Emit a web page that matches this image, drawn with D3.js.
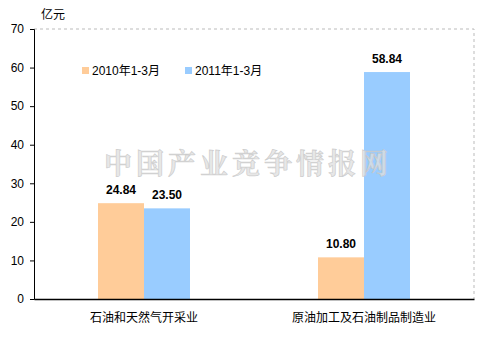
<!DOCTYPE html>
<html>
<head>
<meta charset="utf-8">
<script src="https://cdn.jsdelivr.net/npm/d3@7"></script>
<style>
  body { margin: 0; background: #fff; }
  text { font-family: "Liberation Sans", Arial, "Noto Sans CJK SC", sans-serif; }
  .cn { font-family: "Noto Sans CJK SC", sans-serif; }
</style>
</head>
<body>
<div id="chart"></div>
<script>
var categories = ["石油和天然气开采业", "原油加工及石油制品制造业"];
var seriesNames = ["2010年1-3月", "2011年1-3月"];
var values2010 = [24.84, 10.80];
var values2011 = [23.50, 58.84];
var colors = ["#FFCC99", "#99CCFF"];
var yTicks = [0, 10, 20, 30, 40, 50, 60, 70];

var W = 498, H = 337;
var margin = { top: 29, right: 24, bottom: 38, left: 34 };
var width = W - margin.left - margin.right,
    height = H - margin.top - margin.bottom;

var svg = d3.select("#chart").append("svg")
    .attr("width", W).attr("height", H);

var g = svg.append("g")
    .attr("transform", "translate(" + margin.left + "," + margin.top + ")");

var x0 = d3.scaleBand().domain(categories).range([0, width]);
var x1 = d3.scaleBand().domain(seriesNames).range([0, 92]);
var y = d3.scaleLinear().domain([0, 70]).range([height, 0]);

// dashed border top/right
g.append("path")
    .attr("d", "M0,0H" + width + "V" + height)
    .attr("fill", "none")
    .attr("stroke", "#bbb")
    .attr("stroke-dasharray", "3,3");

var rows = categories.map(function (c, i) {
    return { cat: c, vals: [values2010[i], values2011[i]] };
});

var grp = g.selectAll(".grp").data(rows).enter().append("g")
    .attr("transform", function (d) {
        return "translate(" + (x0(d.cat) + x0.bandwidth() / 2 - 46) + ",0)";
    });

grp.selectAll("rect").data(function (d) {
    return d.vals.map(function (v, i) { return { s: seriesNames[i], v: v, i: i }; });
}).enter().append("rect")
    .attr("x", function (d) { return x1(d.s); })
    .attr("y", function (d) { return y(d.v); })
    .attr("width", x1.bandwidth())
    .attr("height", function (d) { return height - y(d.v); })
    .attr("fill", function (d) { return colors[d.i]; });

grp.selectAll(".lbl").data(function (d) {
    return d.vals.map(function (v, i) { return { s: seriesNames[i], v: v }; });
}).enter().append("text")
    .attr("x", function (d) { return x1(d.s) + x1.bandwidth() / 2; })
    .attr("y", function (d) { return y(d.v) - 9; })
    .attr("text-anchor", "middle")
    .style("font-size", "12px")
    .style("font-weight", "bold")
    .text(function (d) { return d.v.toFixed(2); });

// watermark (drawn over the bars, like the reference)
g.append("text")
    .attr("x", 214).attr("y", 145)
    .attr("text-anchor", "middle")
    .style("font-family", "'Noto Serif CJK SC','Noto Sans CJK SC',serif")
    .style("font-size", "28px")
    .style("font-weight", "bold")
    .style("letter-spacing", "4px")
    .attr("fill", "#e0e0e0")
    .attr("fill-opacity", 0.75)
    .attr("stroke", "#c4c4c4")
    .attr("stroke-opacity", 0.8)
    .attr("stroke-width", 0.7)
    .text("中国产业竞争情报网");

// y axis
var yAxis = g.append("g")
    .call(d3.axisLeft(y).tickValues(yTicks).tickSize(4).tickPadding(6));
yAxis.select(".domain").attr("stroke", "#000");
yAxis.selectAll("text").style("font-size", "12px").attr("fill", "#000");

// x axis
var xAxis = g.append("g")
    .attr("transform", "translate(0," + height + ")")
    .call(d3.axisBottom(x0).tickSize(0).tickPadding(14));
xAxis.select(".domain").attr("stroke", "#000").attr("stroke-width", 1.5);
xAxis.selectAll("text").attr("class", "cn").style("font-size", "12px").attr("fill", "#000");

// unit
svg.append("text").attr("class", "cn")
    .attr("x", 41).attr("y", 19)
    .style("font-size", "12px")
    .text("亿元");

// legend
var legX = [82, 185];
var leg = svg.selectAll(".leg").data(seriesNames).enter().append("g")
    .attr("transform", function (d, i) { return "translate(" + legX[i] + ",67)"; });
leg.append("rect").attr("width", 7).attr("height", 7)
    .attr("fill", function (d, i) { return colors[i]; });
leg.append("text").attr("x", 10).attr("y", 8)
    .style("font-size", "12px")
    .text(function (d) { return d; });
</script>
</body>
</html>
